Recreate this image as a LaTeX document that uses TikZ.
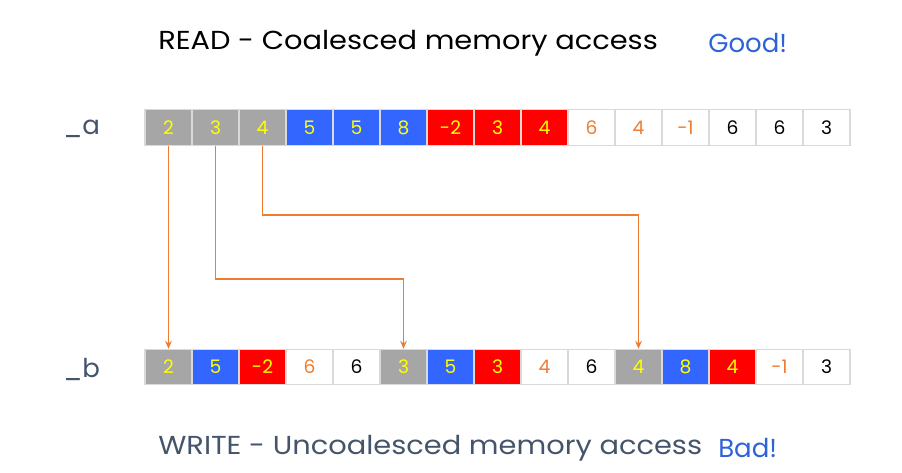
\documentclass[tikz,border=0pt]{standalone}
\usepackage{fontspec}
\setmainfont{Poppins}
\definecolor{cgray}{HTML}{A6A6A6}
\definecolor{cblue}{HTML}{3366FF}
\definecolor{cred}{HTML}{FF0000}
\definecolor{cyel}{HTML}{FFFF00}
\definecolor{corg}{HTML}{ED7D31}
\definecolor{cbord}{HTML}{D9D9D9}
\definecolor{tblue}{HTML}{2E63D6}
\definecolor{tgray}{HTML}{44546A}
\tikzset{cell/.style={draw=cbord,line width=0.8pt,minimum width=35.25pt,minimum height=26.5pt,inner sep=0pt,font=\fontsize{14}{14}\selectfont},
 G/.style={cell,fill=cgray,text=cyel}, B/.style={cell,fill=cblue,text=cyel}, R/.style={cell,fill=cred,text=cyel},
 O/.style={cell,fill=white,text=corg}, K/.style={cell,fill=white,text=black},
 conn/.style={draw=corg,line width=0.8pt,-{Stealth[length=6pt,width=5pt]}},
 ttl/.style={font=\fontsize{19.5}{19.5}\selectfont,inner sep=0pt,anchor=west},
 wide/.style={ttl,xscale=1.11,transform shape}}
\usetikzlibrary{arrows.meta}
\begin{document}
\begin{tikzpicture}[x=0.75pt,y=-0.75pt]
\useasboundingbox (0,0) rectangle (902,472);
\foreach \s/\v [count=\i] in {G/2,G/3,G/4,B/5,B/5,B/8,R/-2,R/3,R/4,O/6,O/4,O/-1,K/6,K/6,K/3}
  \node[\s] (a\i) at ({145+(\i-0.5)*47},127.5) {\v};
\foreach \s/\v [count=\i] in {G/2,B/5,R/-2,O/6,K/6,G/3,B/5,R/3,O/4,K/6,G/4,B/8,R/4,O/-1,K/3}
  \node[\s] (b\i) at ({145+(\i-0.5)*47},367) {\v};
\node[wide] (t1) at (158,43) {READ - Coalesced memory access};
\node[ttl,text=tblue] (t2) at (708,43) {Good!};
\node[wide,text=tgray] (t3) at (158,448) {WRITE - Uncoalesced memory access};
\node[ttl,text=tblue] (t4) at (718,448) {Bad!};
\node[ttl,text=tgray] (la) at (63,129) {\_a};
\node[ttl,text=tgray] (lb) at (63,369) {\_b};
\coordinate (k2) at (a2.south |- 0,279);
\coordinate (k3) at (a3.south |- 0,215);
\draw[conn] (a1.south) -- (b1.north);
\draw[conn] (a2.south) -- (k2) -| (b6.north);
\draw[conn] (a3.south) -- (k3) -| (b11.north);
\end{tikzpicture}
\end{document}
